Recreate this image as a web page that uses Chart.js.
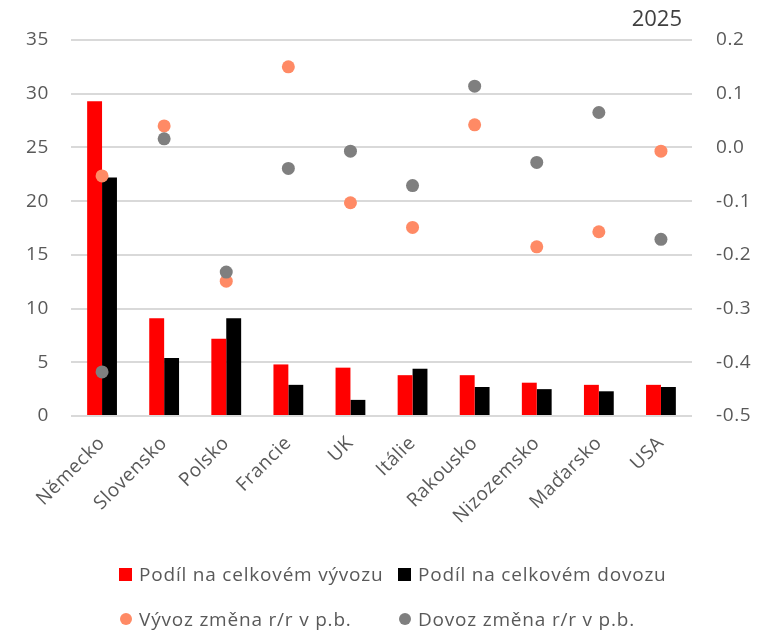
<!DOCTYPE html>
<html>
<head>
<meta charset="utf-8">
<script src="https://cdn.jsdelivr.net/npm/chart.js@4/dist/chart.umd.min.js"></script>
<style>
  html, body { margin: 0; padding: 0; background: #fff; }
  #wrap { position: relative; width: 757px; height: 632px; }
  #legend { position: absolute; left: 0; top: 560px; width: 757px; font-family: "Open Sans", sans-serif; font-size: 19px; letter-spacing: 0.8px; color: #595959; }
  .li { position: absolute; display: flex; align-items: center; white-space: nowrap; }
  .sq { width: 13px; height: 13px; margin-right: 7px; }
  .ci { width: 12px; height: 12px; border-radius: 50%; margin-right: 7px; }
</style>
</head>
<body>
<div id="wrap">
  <canvas id="c" width="757" height="632"></canvas>
  <div id="legend"></div>
</div>
<script>
const categories = ["Německo", "Slovensko", "Polsko", "Francie", "UK", "Itálie", "Rakousko", "Nizozemsko", "Maďarsko", "USA"];
const exportShare = [29.3, 9.1, 7.2, 4.8, 4.5, 3.8, 3.8, 3.1, 2.9, 2.9];
const importShare = [22.2, 5.4, 9.1, 2.9, 1.5, 4.4, 2.7, 2.5, 2.3, 2.7];
const exportChange = [-0.053, 0.040, -0.249, 0.150, -0.103, -0.149, 0.042, -0.185, -0.157, -0.007];
const importChange = [-0.418, 0.016, -0.232, -0.039, -0.007, -0.071, 0.114, -0.028, 0.065, -0.171];
const leftTicks = [0, 5, 10, 15, 20, 25, 30, 35];
const rightTicks = [-0.5, -0.4, -0.3, -0.2, -0.1, 0.0, 0.1, 0.2];
const seriesNames = ["Podíl na celkovém vývozu", "Podíl na celkovém dovozu", "Vývoz změna r/r v p.b.", "Dovoz změna r/r v p.b."];
const yearLabel = "2025";

const textColor = "#595959";
const fontFam = "'Open Sans', sans-serif";

const spacingPlugin = {
  id: "spacing",
  beforeLayout(chart) { chart.ctx.letterSpacing = "0.6px"; },
  beforeDraw(chart) { chart.ctx.letterSpacing = "0.6px"; }
};

const yearPlugin = {
  id: "yearLabel",
  afterDraw(chart) {
    const ctx = chart.ctx;
    ctx.save();
    ctx.letterSpacing = "0px";
    ctx.font = "22px " + fontFam;
    ctx.fillStyle = "#404040";
    ctx.textAlign = "right";
    ctx.textBaseline = "middle";
    ctx.fillText(yearLabel, chart.chartArea.right - 10, 20);
    ctx.restore();
  }
};

new Chart(document.getElementById("c"), {
  data: {
    labels: categories,
    datasets: [
      { type: "line", label: seriesNames[3], data: importChange, yAxisID: "y1", showLine: false,
        pointRadius: 6.5, pointHoverRadius: 6.5, pointBackgroundColor: "#7f7f7f", pointBorderWidth: 0, borderColor: "#7f7f7f", backgroundColor: "#7f7f7f", order: 0 },
      { type: "line", label: seriesNames[2], data: exportChange, yAxisID: "y1", showLine: false,
        pointRadius: 6.5, pointHoverRadius: 6.5, pointBackgroundColor: "#ff8a65", pointBorderWidth: 0, borderColor: "#ff8a65", backgroundColor: "#ff8a65", order: 1 },
      { type: "bar", label: seriesNames[0], data: exportShare, yAxisID: "y", backgroundColor: "#ff0000",
        categoryPercentage: 0.48, barPercentage: 1.0, order: 2 },
      { type: "bar", label: seriesNames[1], data: importShare, yAxisID: "y", backgroundColor: "#000000",
        categoryPercentage: 0.48, barPercentage: 1.0, order: 3 }
    ]
  },
  options: {
    responsive: false,
    animation: false,
    layout: { padding: { top: 40, left: 0, right: 0, bottom: 96 } },
    plugins: { legend: { display: false }, tooltip: { enabled: false } },
    scales: {
      x: {
        offset: true,
        grid: { display: false, drawTicks: false },
        border: { display: false },
        ticks: { color: textColor, font: { family: fontFam, size: 19 }, minRotation: 45, maxRotation: 45, padding: 16, autoSkip: false },
        afterFit(s) { s.height = 120; }
      },
      y: {
        position: "left",
        min: 0, max: 35,
        afterBuildTicks(s) { s.ticks = leftTicks.map(v => ({ value: v })); },
        grid: { color: "#d9d9d9", lineWidth: 2, drawTicks: false },
        border: { display: false },
        ticks: { color: textColor, font: { family: fontFam, size: 19 }, padding: 22 },
        afterFit(s) { s.width = 71; }
      },
      y1: {
        position: "right",
        min: -0.5, max: 0.2,
        afterBuildTicks(s) { s.ticks = rightTicks.map(v => ({ value: v })); },
        grid: { display: false, drawTicks: false },
        border: { display: false },
        ticks: { color: textColor, font: { family: fontFam, size: 19 }, padding: 24, callback: v => v.toFixed(1) },
        afterFit(s) { s.width = 65; }
      }
    }
  },
  plugins: [spacingPlugin, yearPlugin]
});

// Legend (HTML text)
const legendItems = [
  { name: seriesNames[0], cls: "sq", color: "#ff0000", x: 119, y: 1 },
  { name: seriesNames[1], cls: "sq", color: "#000000", x: 398, y: 1 },
  { name: seriesNames[2], cls: "ci", color: "#ff8a65", x: 120, y: 46 },
  { name: seriesNames[3], cls: "ci", color: "#7f7f7f", x: 399, y: 46 }
];
const lg = document.getElementById("legend");
legendItems.forEach(it => {
  const d = document.createElement("div");
  d.className = "li";
  d.style.left = it.x + "px";
  d.style.top = it.y + "px";
  const m = document.createElement("span");
  m.className = it.cls;
  m.style.background = it.color;
  const t = document.createElement("span");
  t.textContent = it.name;
  d.appendChild(m); d.appendChild(t);
  lg.appendChild(d);
});
</script>
</body>
</html>
